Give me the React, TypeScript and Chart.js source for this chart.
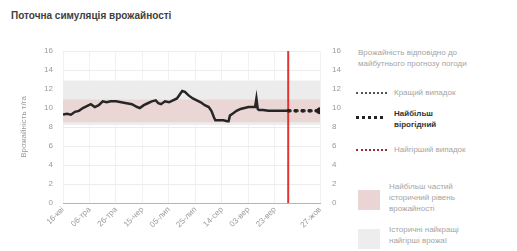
import React, { useEffect, useRef } from "react";
import { Chart, registerables } from "chart.js";
Chart.register(...registerables);

const tickDays = [0, 20, 40, 60, 80, 100, 120, 140, 160, 194];
const tickLabels = ["16-кві", "06-тра", "26-тра", "15-чер", "05-лип", "25-лип", "14-сер", "03-вер", "23-вер", "27-жов"];
const yTicks = [0, 2, 4, 6, 8, 10, 12, 14, 16];

const actualDays = [0, 3, 6, 9, 12, 15, 18, 21, 24, 27, 30, 33, 36, 40, 44, 48, 52, 56, 58, 61, 64, 67, 70, 72, 74, 77, 80, 83, 86, 88, 90, 92, 95, 98, 101, 104, 107, 110, 112, 114, 115, 118, 121, 124, 125, 126, 128, 131, 134, 137, 140, 143, 145, 146, 147, 148, 151, 155, 160, 165, 170];
const actualYield = [9.3, 9.4, 9.3, 9.6, 9.7, 10.0, 10.2, 10.4, 10.1, 10.3, 10.7, 10.6, 10.7, 10.7, 10.6, 10.5, 10.4, 10.1, 10.0, 10.3, 10.5, 10.7, 10.8, 10.5, 10.4, 10.7, 10.6, 10.8, 11.0, 11.4, 11.8, 11.7, 11.3, 11.0, 10.8, 10.6, 10.3, 10.1, 9.7, 9.0, 8.7, 8.7, 8.7, 8.6, 8.6, 9.2, 9.4, 9.7, 9.9, 10.0, 10.1, 10.1, 10.1, 11.0, 9.9, 9.8, 9.8, 9.7, 9.7, 9.7, 9.7];

const todayDay = 170;
const endDay = 194;
const forecastDays = [170, 194];
const bestCase = [9.7, 9.7];
const likelyCase = [9.7, 9.7];
const worstCase = [9.7, 9.7];
const historicRange = [8.2, 12.9];
const frequentRange = [8.5, 10.9];

const FONT = "'Liberation Sans', Arial, sans-serif";
const TICK = "#9a9a9a";

export default function App() {
  const ref = useRef<HTMLCanvasElement>(null);
  useEffect(() => {
    if (!ref.current) return;
    const flat = (v: number) => [{ x: 0, y: v }, { x: endDay, y: v }];
    const chart = new Chart(ref.current, {
      type: "line",
      data: {
        datasets: [
          { data: flat(historicRange[1]), fill: "+1", backgroundColor: "#ececec", borderWidth: 0, pointRadius: 0, order: 10 },
          { data: flat(historicRange[0]), fill: false, borderWidth: 0, pointRadius: 0, order: 10 },
          { data: flat(frequentRange[1]), fill: "+1", backgroundColor: "#ebd6d6", borderWidth: 0, pointRadius: 0, order: 9 },
          { data: flat(frequentRange[0]), fill: false, borderWidth: 0, pointRadius: 0, order: 9 },
          { data: [{ x: todayDay, y: 0 }, { x: todayDay, y: 16 }], borderColor: "#e3342f", borderWidth: 2, pointRadius: 0, fill: false, order: 5 },
          { data: forecastDays.map((d, i) => ({ x: d, y: worstCase[i] })), borderColor: "#9b2c3c", borderWidth: 3, borderDash: [2, 5], borderCapStyle: "round", pointRadius: 0, fill: false, order: 4 },
          { data: forecastDays.map((d, i) => ({ x: d, y: bestCase[i] })), borderColor: "#555", borderWidth: 3, borderDash: [2, 5], borderCapStyle: "round", pointRadius: 0, fill: false, order: 3 },
          { data: forecastDays.map((d, i) => ({ x: d, y: likelyCase[i] })), borderColor: "#222", borderWidth: 3.5, borderDash: [1, 6], borderCapStyle: "round", pointRadius: [0, 3.5], pointBackgroundColor: "#222", pointBorderWidth: 0, fill: false, order: 2 },
          { data: actualDays.map((d, i) => ({ x: d, y: actualYield[i] })), borderColor: "#262626", borderWidth: 2.5, pointRadius: 0, fill: false, tension: 0, order: 1 },
        ],
      },
      options: {
        animation: false,
        responsive: false,
        layout: { padding: { left: 17, top: 51, right: 0, bottom: 0 } },
        plugins: { legend: { display: false }, tooltip: { enabled: false }, filler: { drawTime: "beforeDatasetDraw" } as any },
        scales: {
          x: {
            type: "linear",
            min: 0,
            max: endDay,
            afterBuildTicks: (s: any) => { s.ticks = tickDays.map((v) => ({ value: v })); },
            afterFit: (s: any) => { s.height = 48; },
            ticks: {
              autoSkip: false,
              minRotation: 45,
              maxRotation: 45,
              color: TICK,
              font: { size: 8, family: FONT },
              padding: 2,
              callback: (v: any) => tickLabels[tickDays.indexOf(Number(v))],
            },
            grid: { color: "#f1f1f1", drawTicks: false },
            border: { color: "#b5b5b5" },
          },
          y: {
            position: "left",
            min: 0,
            max: 16,
            afterBuildTicks: (s: any) => { s.ticks = yTicks.map((v) => ({ value: v })); },
            afterFit: (s: any) => { s.width = 46; },
            ticks: { color: TICK, font: { size: 8, family: FONT }, padding: 10 },
            title: { display: true, text: "Врожайність т/га", color: TICK, font: { size: 8, family: FONT }, padding: 2 },
            grid: { color: "#ececec", drawTicks: false },
            border: { display: false },
          },
          y2: {
            position: "right",
            min: 0,
            max: 16,
            afterBuildTicks: (s: any) => { s.ticks = yTicks.map((v) => ({ value: v })); },
            afterFit: (s: any) => { s.width = 25; },
            ticks: { color: TICK, font: { size: 8, family: FONT }, padding: 12 },
            grid: { drawOnChartArea: false, drawTicks: false },
            border: { display: false },
          },
        },
      } as any,
    });
    return () => chart.destroy();
  }, []);

  const txt: React.CSSProperties = { position: "absolute", fontFamily: FONT, fontSize: 8, lineHeight: "11px", color: "#a5a5a5", whiteSpace: "nowrap" };
  return (
    <div style={{ position: "fixed", left: 0, top: 0, width: 517, height: 251, background: "#fff", overflow: "hidden" }}>
      <div style={{ position: "absolute", left: 11, top: 10, fontFamily: FONT, fontSize: 10, fontWeight: "bold", color: "#404040", whiteSpace: "nowrap" }}>
        Поточна симуляція врожайності
      </div>
      <canvas ref={ref} width={345} height={251} style={{ position: "absolute", left: 0, top: 0, width: 345, height: 251 }} />
      <div style={{ ...txt, left: 358, top: 47 }}>Врожайність відповідно до<br />майбутнього прогнозу погоди</div>

      <div style={{ position: "absolute", left: 356, top: 92, width: 31, borderTop: "2.5px dotted #555" }} />
      <div style={{ ...txt, left: 394, top: 87 }}>Кращий випадок</div>

      <div style={{ position: "absolute", left: 356, top: 116, width: 27, borderTop: "3.5px dotted #222" }} />
      <div style={{ ...txt, left: 394, top: 108, color: "#333", fontWeight: "bold" }}>Найбільш<br />вірогідний</div>

      <div style={{ position: "absolute", left: 356, top: 149, width: 31, borderTop: "2.5px dotted #9b2c3c" }} />
      <div style={{ ...txt, left: 394, top: 144 }}>Найгірший випадок</div>

      <div style={{ position: "absolute", left: 358, top: 190, width: 22, height: 20, background: "#ebd4d4" }} />
      <div style={{ ...txt, left: 389, top: 181 }}>Найбільш частий<br />історичний рівень<br />врожайності</div>

      <div style={{ position: "absolute", left: 358, top: 229, width: 22, height: 20, background: "#ededed" }} />
      <div style={{ ...txt, left: 389, top: 224 }}>Історичні найкращі<br />найгірші врожаї</div>
    </div>
  );
}
